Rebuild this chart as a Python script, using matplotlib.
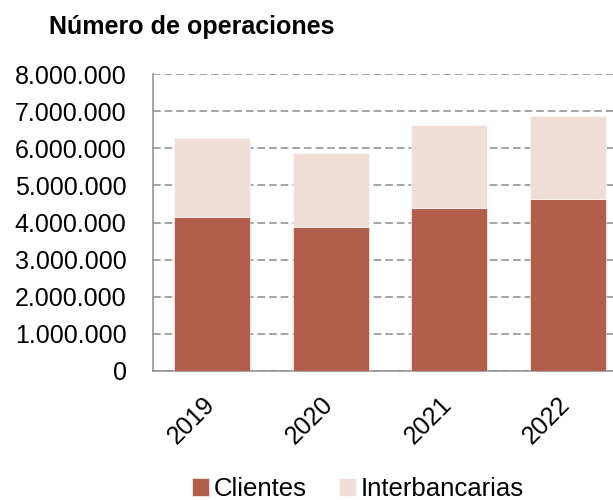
import matplotlib
matplotlib.use("Agg")
import matplotlib.pyplot as plt
import matplotlib.transforms as mtransforms
from matplotlib.ticker import FuncFormatter, MultipleLocator

plt.rcParams["font.family"] = ["Liberation Sans", "DejaVu Sans"]

# Data
years = ["2019", "2020", "2021", "2022"]
clientes = [4150000, 3880000, 4390000, 4630000]
interbancarias = [2130000, 1990000, 2240000, 2250000]

color_clientes = "#B35E4A"
color_inter = "#F0DDD6"
grid_gray = "#8C8C8C"

fig = plt.figure(figsize=(6.13, 5.0), dpi=100)
ax = fig.add_axes([0.2496, 0.258, 0.773, 0.594])

x = range(len(years))
ax.bar(x, clientes, width=0.64, color=color_clientes, edgecolor="white",
       linewidth=0.4, label="Clientes", zorder=3)
ax.bar(x, interbancarias, width=0.64, bottom=clientes, color=color_inter,
       edgecolor="white", linewidth=0.4, label="Interbancarias", zorder=3)

ax.set_xlim(-0.5, 3.5)
ax.set_ylim(0, 8000000)
ax.yaxis.set_major_locator(MultipleLocator(1000000))
ax.yaxis.set_major_formatter(FuncFormatter(lambda v, p: f"{int(v):,}".replace(",", ".")))

ax.grid(axis="y", color=grid_gray, linestyle=(0, (5, 2.6)), linewidth=1.1, zorder=0)
for side in ["top", "right"]:
    ax.spines[side].set_visible(False)
for side in ["left", "bottom"]:
    ax.spines[side].set_color(grid_gray)
    ax.spines[side].set_linewidth(1.1)

ax.tick_params(axis="y", length=0, pad=19, labelsize=18)
ax.tick_params(axis="x", length=0, pad=15, labelsize=18)
ax.set_xticks(list(x))
ax.set_xticklabels(years, rotation=45, ha="right")
offset = mtransforms.ScaledTranslation(0.07, 0, fig.dpi_scale_trans)
for lbl in ax.get_xticklabels():
    lbl.set_transform(lbl.get_transform() + offset)

fig.text(0.08, 0.932, "Número de operaciones", fontsize=18, fontweight="bold",
         va="baseline", ha="left")

handles, labels = ax.get_legend_handles_labels()
fig.legend(handles, labels, loc="center", bbox_to_anchor=(358 / 613, 1 - 489 / 500),
           ncol=2, frameon=False, fontsize=18.5, handlelength=0.65, handleheight=0.65,
           handletextpad=0.2, columnspacing=1.25, borderaxespad=0, borderpad=0)

fig.savefig("out.png", dpi=100)
